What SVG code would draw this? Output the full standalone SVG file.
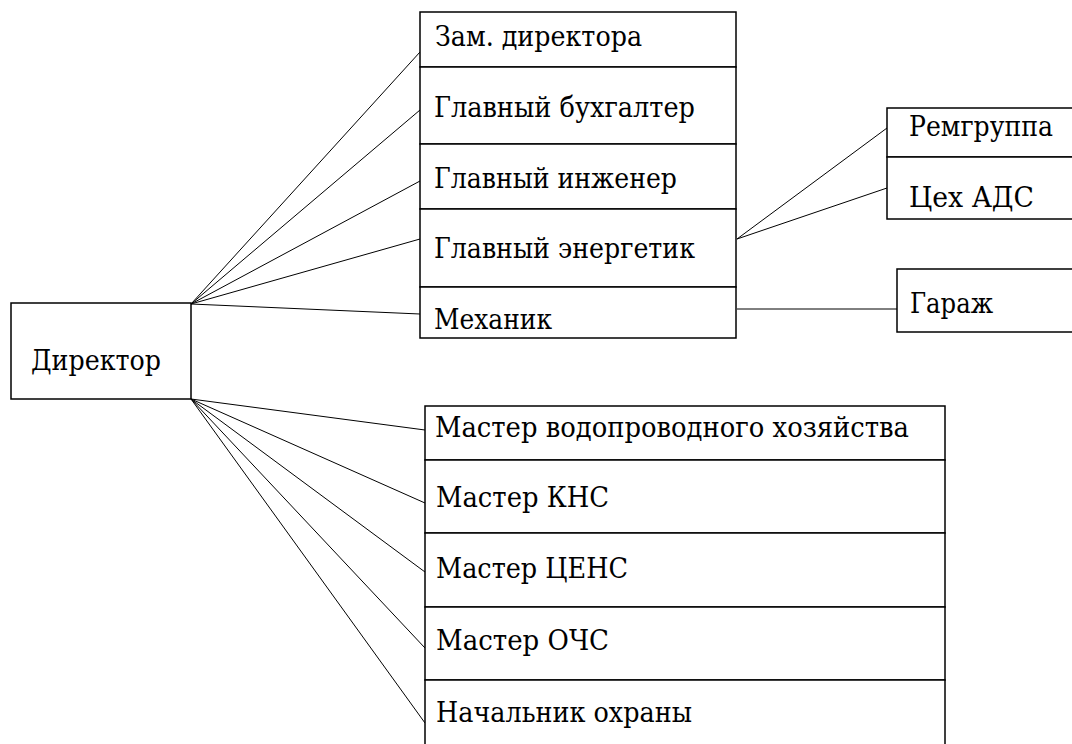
<svg xmlns="http://www.w3.org/2000/svg" width="1072" height="744" viewBox="0 0 1072 744">
<style>
.box{fill:#fff;stroke:#000;stroke-width:1.5}
.t{font-family:'DejaVu Serif','Liberation Serif',serif;font-size:27px;fill:#000}
.c line{stroke:#000;stroke-width:1}
</style>
<rect width="1072" height="744" fill="#fff"/>
<g class="c" id="connectors">
<line x1="191" y1="304" x2="420" y2="52"/>
<line x1="191" y1="304" x2="420" y2="110"/>
<line x1="191" y1="304" x2="420" y2="181"/>
<line x1="191" y1="304" x2="420" y2="239"/>
<line x1="191" y1="304" x2="420" y2="314"/>
<line x1="191" y1="399" x2="425" y2="430"/>
<line x1="191" y1="399" x2="425" y2="503"/>
<line x1="191" y1="399" x2="425" y2="572"/>
<line x1="191" y1="399" x2="425" y2="648"/>
<line x1="191" y1="399" x2="425" y2="723"/>
<line x1="737" y1="239" x2="887" y2="128"/>
<line x1="737" y1="239" x2="887" y2="188"/>
<line x1="737" y1="309" x2="897" y2="309"/>
</g>
<g id="director"><rect class="box" x="11" y="303" width="180" height="96"/><text class="t" x="31" y="370" textLength="130" lengthAdjust="spacingAndGlyphs">Директор</text></g>
<g id="zam"><rect class="box" x="420" y="12" width="316" height="55"/><text class="t" x="435" y="46" textLength="207" lengthAdjust="spacingAndGlyphs">Зам. директора</text></g>
<g id="buh"><rect class="box" x="420" y="67" width="316" height="77"/><text class="t" x="434" y="117" textLength="261" lengthAdjust="spacingAndGlyphs">Главный бухгалтер</text></g>
<g id="ing"><rect class="box" x="420" y="144" width="316" height="65"/><text class="t" x="434" y="188" textLength="243" lengthAdjust="spacingAndGlyphs">Главный инженер</text></g>
<g id="energ"><rect class="box" x="420" y="209" width="316" height="78"/><text class="t" x="434" y="258" textLength="261" lengthAdjust="spacingAndGlyphs">Главный энергетик</text></g>
<g id="meh"><rect class="box" x="420" y="287" width="316" height="51"/><text class="t" x="434" y="329" textLength="118" lengthAdjust="spacingAndGlyphs">Механик</text></g>
<g id="remgr"><rect class="box" x="887" y="108" width="200" height="49"/><text class="t" x="909" y="136" textLength="144" lengthAdjust="spacingAndGlyphs">Ремгруппа</text></g>
<g id="ads"><rect class="box" x="887" y="157" width="200" height="62"/><text class="t" x="909" y="207" textLength="125" lengthAdjust="spacingAndGlyphs">Цех АДС</text></g>
<g id="garage"><rect class="box" x="897" y="269" width="200" height="63"/><text class="t" x="910" y="313" textLength="83" lengthAdjust="spacingAndGlyphs">Гараж</text></g>
<g id="vodo"><rect class="box" x="425" y="406" width="520" height="54"/><text class="t" x="435" y="437" textLength="474" lengthAdjust="spacingAndGlyphs">Мастер водопроводного хозяйства</text></g>
<g id="kns"><rect class="box" x="425" y="460" width="520" height="73"/><text class="t" x="436" y="507" textLength="173" lengthAdjust="spacingAndGlyphs">Мастер КНС</text></g>
<g id="cens"><rect class="box" x="425" y="533" width="520" height="74"/><text class="t" x="436" y="578" textLength="192" lengthAdjust="spacingAndGlyphs">Мастер ЦЕНС</text></g>
<g id="ochs"><rect class="box" x="425" y="607" width="520" height="73"/><text class="t" x="436" y="650" textLength="173" lengthAdjust="spacingAndGlyphs">Мастер ОЧС</text></g>
<g id="ohrana"><rect class="box" x="425" y="680" width="520" height="80"/><text class="t" x="436" y="722" textLength="256" lengthAdjust="spacingAndGlyphs">Начальник охраны</text></g>
</svg>
